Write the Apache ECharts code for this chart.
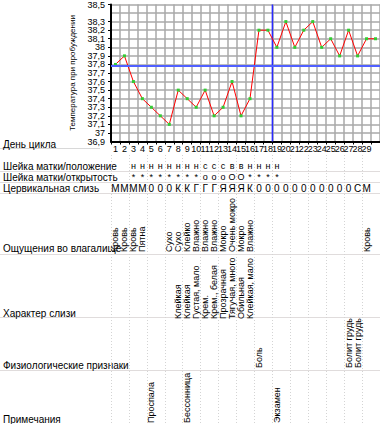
<!DOCTYPE html>
<html><head><meta charset="utf-8">
<script src="https://cdn.jsdelivr.net/npm/echarts@6/dist/echarts.min.js"></script>
<style>html,body{margin:0;padding:0;background:#fff}#c{width:380px;height:424px}</style>
</head><body><div id="c"></div>
<script>
// ---------- data ----------
const days = ['1','2','3','4','5','6','7','8','9','10','11','12','13','14','15','16','17','18','19','20','21','22','23','24','25','26','27','28','29','30'];
const temps = [37.8,37.9,37.6,37.4,37.3,37.2,37.1,37.5,37.4,37.3,37.5,37.2,37.3,37.6,37.2,37.4,38.2,38.2,38.0,38.3,38.0,38.2,38.3,38.0,38.1,37.9,38.2,37.9,38.1,38.1];
const coverLine = 37.78;
const shiftDay = 18;
const tempMin = 36.9, tempMax = 38.5, tempStep = 0.1;
const cervixPosition = ['','','н','н','н','н','н','н','н','н','с','с','с','в','в','н','н','н','н','','','','','','','','','','',''];
const cervixOpening  = ['','','*','*','*','*','*','*','*','*','o','o','o','O','O','*','*','*','*','','','','','','','','','','',''];
const mucus = ['М','М','М','М','0','0','0','К','К','Г','Г','Г','Я','Я','Я','К','0','0','0','0','0','0','0','0','0','0','0','С','М',''];
const sensations = ['Кровь','Кровь','Кровь','Пятна','','','Сухо','Сухо','Клейко','Влажно','Влажно','Влажно','Мокро','Очень мокро','Мокро','Влажно','','','','','','','','','','','','','Кровь',''];
const mucusCharacter = ['','','','','','','','Клейкая','Клейкая','Густая, мало','Крем.','Крем., белая','Прозрачная','Тягучая, много','Обильная','Клейкая, мало','','','','','','','','','','','','','',''];
const physSigns = ['','','','','','','','','','','','','','','','','Боль','','','','','','','','','','Болит грудь','Болит грудь','',''];
const notes = ['','','','','Проспала','','','','Бессонница','','','','','','','','','','Экзамен','','','','','','','','','','',''];
const rowLabels = ['День цикла','Шейка матки/положение','Шейка матки/открытость','Цервикальная слизь','Ощущения во влагалище','Характер слизи','Физиологические признаки','Примечания'];
const yAxisTitle = 'Температура при пробуждении';

// ---------- layout ----------
const FONT = '"Liberation Sans", Arial, sans-serif';
const GL = 111, GW = 274.5;          // shared horizontal layout of day columns
const labelY = [144, 166, 177, 188.5, 248, 313.5, 365, 419];
const sepLines = [171, 182, 193, 254, 317, 370];
const TABLE_TOP = 155, TABLE_BOTTOM = 424;

function fmtTemp(v){
  const r = Math.round(v*10)/10;
  return Number.isInteger(r) ? String(r) : r.toFixed(1).replace('.', ',');
}

function textSeries(values, rowY, vertical, size){
  const items = values.map((t,i)=>[i,rowY,t]).filter(d=>d[2]);
  return {
    type:'custom', xAxisIndex:2, yAxisIndex:1, silent:true, z:5,
    data: items.map(d=>[d[0],d[1]]),
    renderItem:(params, api)=>{
      const p = api.coord([api.value(0), api.value(1)]);
      return {type:'text', x:p[0], y:p[1], rotation: vertical ? Math.PI/2 : 0,
        style:{text: items[params.dataIndex][2], fill:'#000',
          font: size + 'px ' + FONT,
          align: vertical ? 'left' : 'center', verticalAlign:'middle'}};
    }
  };
}

const graphics = [];
graphics.push({type:'line', shape:{x1:0,y1:148.5,x2:100,y2:148.5}, style:{stroke:'#d8d8d8', lineWidth:1}, silent:true});
sepLines.forEach(y=>graphics.push({type:'line', shape:{x1:0,y1:y+0.5,x2:380,y2:y+0.5}, style:{stroke:'#e0dcdc', lineWidth:1}, silent:true}));
rowLabels.forEach((t,i)=>graphics.push({type:'text', x:3, y:labelY[i], style:{text:t, fill:'#000', font:'10px '+FONT, align:'left', verticalAlign:'middle'}, silent:true}));

const tempLabel = {fontSize:9, fontFamily:FONT, color:'#000', margin:6};

const chart = echarts.init(document.getElementById('c'), null, {renderer:'svg'});
chart.setOption({
  animation:false,
  backgroundColor:'#fff',
  grid:[
    {left:GL, top:3, width:GW, height:138.5},
    {left:GL, top:TABLE_TOP, width:GW, height:TABLE_BOTTOM-TABLE_TOP}
  ],
  xAxis:[
    {type:'category', gridIndex:0, data:days, boundaryGap:true,
     axisLine:{lineStyle:{color:'#000', width:2}},
     axisTick:{show:true, length:3, lineStyle:{color:'#000'}},
     axisLabel:{fontSize:9, fontFamily:FONT, color:'#000', margin:3, interval:0,
       formatter:(v,i)=> i < 29 ? v : ''},
     splitLine:{show:true, lineStyle:{color:'#a8a8a8', width:1.5}}},
    {type:'value', gridIndex:0, min:0, max:days.length, show:false},
    {type:'category', gridIndex:1, data:days, boundaryGap:true,
     axisLine:{show:false}, axisTick:{show:false}, axisLabel:{show:false},
     splitLine:{show:true, lineStyle:{color:'#d4d4d4', width:1, type:[1,2]}}}
  ],
  yAxis:[
    {type:'value', gridIndex:0, min:tempMin, max:tempMax, interval:tempStep, position:'left',
     name:yAxisTitle, nameLocation:'middle', nameRotate:90, nameGap:31,
     nameTextStyle:{fontSize:8, fontFamily:FONT, color:'#000'},
     axisLine:{show:true, lineStyle:{color:'#000', width:2}},
     axisTick:{show:true, length:3, lineStyle:{color:'#000'}},
     axisLabel:Object.assign({formatter:fmtTemp, showMinLabel:false, showMaxLabel:true}, tempLabel),
     splitLine:{show:true, lineStyle:{color:'#a8a8a8', width:1.5}}},
    {type:'value', gridIndex:1, min:TABLE_TOP, max:TABLE_BOTTOM, inverse:true, show:false},
    {type:'value', gridIndex:0, min:tempMin, max:tempMax, interval:tempStep, position:'left', offset:0,
     axisLine:{show:false}, axisTick:{show:false}, splitLine:{show:false},
     axisLabel:Object.assign({showMinLabel:true, showMaxLabel:false,
       formatter:v => Math.abs(v - tempMin) < 1e-6 ? fmtTemp(v) : ''}, tempLabel)}
  ],
  graphic: graphics,
  series:[
    {type:'line', xAxisIndex:0, yAxisIndex:0, data:temps, z:4,
     symbol:'rect', symbolSize:3, showAllSymbol:true,
     lineStyle:{color:'#ff0000', width:1}, itemStyle:{color:'#33cc33'},
     markLine:{silent:true, symbol:'none', label:{show:false},
       lineStyle:{color:'#5060ff', width:2, type:'solid'}, data:[{yAxis:coverLine}]}},
    {type:'line', xAxisIndex:1, yAxisIndex:0, data:[[shiftDay,tempMin],[shiftDay,tempMax]], z:3,
     symbol:'none', lineStyle:{color:'#2a2aff', width:1.5}},
    textSeries(cervixPosition, 166, false, 9),
    textSeries(cervixOpening, 177, false, 9),
    textSeries(mucus, 188.5, false, 10),
    textSeries(sensations, 252, true, 9),
    textSeries(mucusCharacter, 319, true, 9),
    textSeries(physSigns, 368, true, 9),
    textSeries(notes, 423, true, 9)
  ]
});
</script></body></html>
